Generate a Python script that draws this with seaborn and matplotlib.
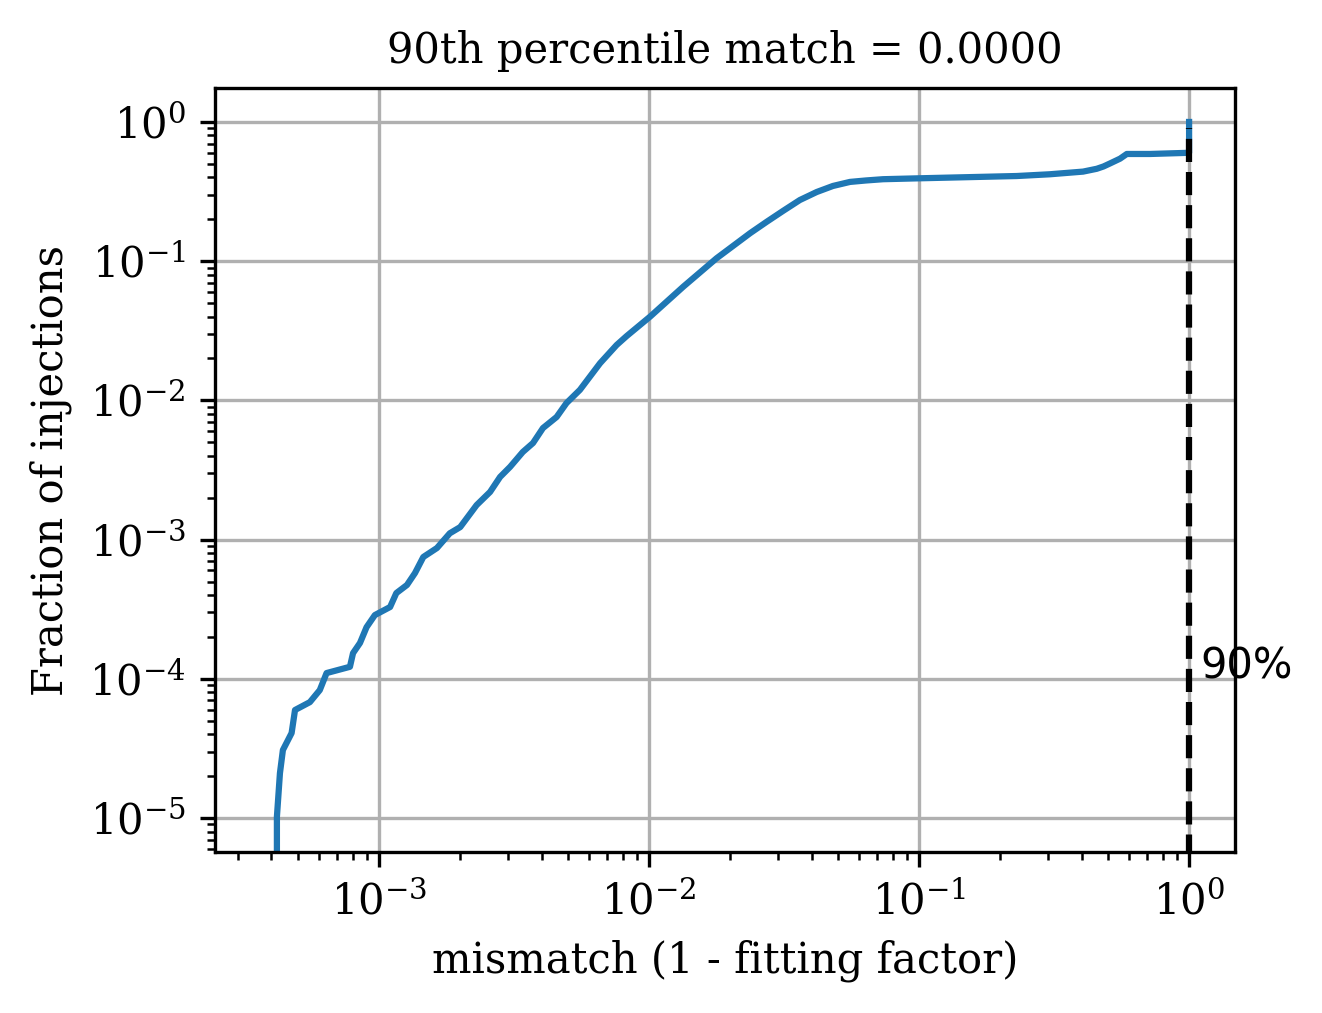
#!/usr/bin/env python3
# Cumulative fraction of injections against mismatch, log-log
import numpy as np
import pandas as pd
import seaborn as sns
import matplotlib
matplotlib.use('Agg')
import matplotlib.pyplot as plt

# values
mismatch = [4.19e-4, 4.19e-4, 4.30e-4, 4.41e-4, 4.75e-4, 4.89e-4, 5.55e-4, 6.04e-4,
            6.40e-4, 7.81e-4, 8.02e-4, 8.51e-4, 9.00e-4, 9.66e-4, 1.10e-3, 1.16e-3,
            1.27e-3, 1.36e-3, 1.46e-3, 1.64e-3, 1.83e-3, 2.00e-3, 2.30e-3, 2.58e-3,
            2.81e-3, 3.06e-3, 3.41e-3, 3.72e-3, 4.05e-3, 4.55e-3, 4.95e-3, 5.55e-3,
            6.59e-3, 7.59e-3, 8.27e-3, 1.01e-2, 1.34e-2, 1.78e-2, 2.37e-2, 2.73e-2,
            3.14e-2, 3.62e-2, 4.18e-2, 4.80e-2, 5.55e-2, 6.36e-2, 7.36e-2, 0.101,
            0.230, 0.305, 0.405, 0.455, 0.482, 0.510, 0.555, 0.588,
            0.717, 0.984, 1.0, 1.0]
fraction = [4.0e-6, 1.02e-5, 2.1e-5, 3.08e-5, 4.08e-5, 5.97e-5, 6.8e-5, 8.3e-5,
            1.10e-4, 1.22e-4, 1.53e-4, 1.81e-4, 2.35e-4, 2.87e-4, 3.28e-4, 4.13e-4,
            4.72e-4, 5.75e-4, 7.5e-4, 8.7e-4, 1.11e-3, 1.23e-3, 1.77e-3, 2.2e-3,
            2.82e-3, 3.33e-3, 4.26e-3, 4.94e-3, 6.33e-3, 7.6e-3, 9.57e-3, 1.19e-2,
            1.85e-2, 2.50e-2, 2.9e-2, 4.0e-2, 6.56e-2, 0.105, 0.159, 0.192,
            0.230, 0.275, 0.314, 0.347, 0.371, 0.380, 0.388, 0.394,
            0.409, 0.421, 0.440, 0.461, 0.479, 0.504, 0.545, 0.589,
            0.589, 0.600, 0.600, 1.0]
mm_90 = 1.0   # mismatch at 90th percentile
frac_90 = 0.9

df = pd.DataFrame({'mismatch': mismatch, 'fraction': fraction})

plt.rcParams['font.family'] = 'serif'
plt.rcParams['font.serif'] = ['DejaVu Serif']
plt.rcParams['font.size'] = 10

fig = plt.figure(figsize=(1322 / 300, 1013 / 300), dpi=300)
ax = fig.add_axes([215 / 1322, 1 - 852 / 1013, (1235 - 215) / 1322, (852 - 88) / 1013])

sns.lineplot(data=df, x='mismatch', y='fraction', estimator=None, sort=False,
             color='#1f77b4', linewidth=1.5, ax=ax)
ax.vlines(mm_90, 1e-6, frac_90, colors='k', linestyles='--', linewidth=1.5)
ax.text(mm_90 * 1.1, 1e-4, '90%', family='DejaVu Sans', fontsize=10)

ax.set_xscale('log')
ax.set_yscale('log')
ax.set_xlim(10 ** -3.607, 10 ** 0.170)
ax.set_ylim(10 ** -5.244, 10 ** 0.244)
ax.grid(True, color='#b0b0b0', linewidth=0.8)
ax.set_axisbelow(True)
ax.set_xlabel('mismatch (1 - fitting factor)')
ax.set_ylabel('Fraction of injections')
ax.set_title('90th percentile match = 0.0000', fontsize=10)

plt.savefig('out.png', dpi=300)
